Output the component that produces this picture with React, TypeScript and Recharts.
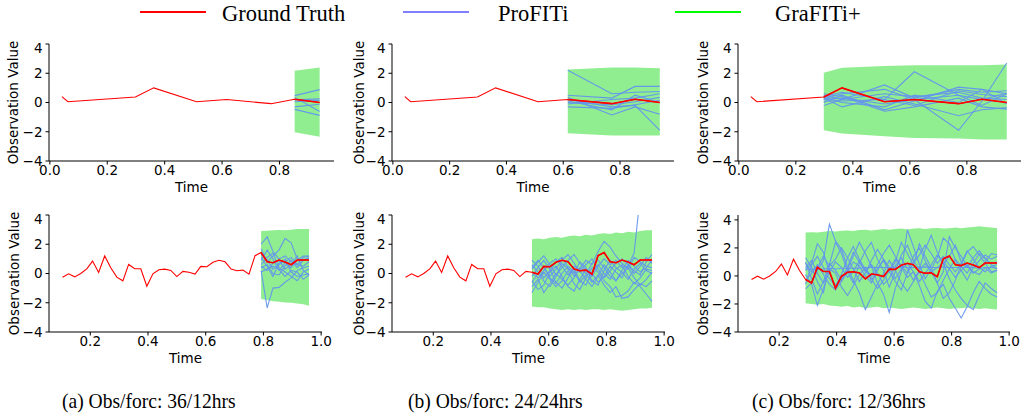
import { ComposedChart, Line, Area, XAxis, YAxis } from 'recharts';

// ---- data: top row (few irregular time stamps) ----
const topTimes = [0.042, 0.063, 0.298, 0.362, 0.511, 0.616, 0.771, 0.853, 0.94];
const topTruth = [0.4, 0.05, 0.38, 1.0, 0.05, 0.2, -0.08, 0.22, 0.0];

// (a) 36/12 : forecast from index 7
const aLo = [-2.03, -2.35];
const aHi = [2.17, 2.4];
const aSamples = [
  [0.47, 0.88],
  [0.35, -0.62],
  [0.18, 0.25],
  [0.05, 0.15],
  [-0.3, -0.12],
  [-0.47, -0.88],
];

// (b) 24/24 : forecast from index 5
const bLo = [-2.1, -2.25, -2.25, -2.25];
const bHi = [2.25, 2.4, 2.4, 2.35];
const bSamples = [
  [2.2, 0.6, 0.7, 0.75],
  [0.5, 0.3, 1.1, 1.1],
  [0.35, -0.85, -0.3, -0.8],
  [0.2, -0.3, -0.2, -1.9],
  [0.1, -0.5, 0.5, 0.0],
  [-0.1, 0.2, 0.3, 0.6],
  [-0.3, -0.4, -0.15, 0.15],
  [0.0, -0.15, 0.05, 0.35],
];

// (c) 12/36 : forecast from index 2
const cLo = [-1.9, -2.12, -2.3, -2.42, -2.47, -2.53, -2.53];
const cHi = [2.03, 2.37, 2.49, 2.55, 2.55, 2.55, 2.6];
const cSamples = [
  [0.4, 0.7, 0.2, 2.1, 0.5, -0.2, 0.6],
  [0.5, 0.2, 1.2, 0.3, 0.9, 0.7, 0.8],
  [0.2, 0.3, -0.1, 0.2, -1.9, 0.1, 2.7],
  [0.3, -0.3, 0.4, -0.1, -0.9, -0.5, -0.35],
  [0.0, 0.5, -0.5, 0.1, 1.05, 0.9, 0.6],
  [-0.2, 0.2, 0.6, 0.4, 0.7, 0.3, 0.2],
  [0.6, 0.4, -0.6, -0.3, 0.3, -0.3, -0.45],
  [0.1, 0.1, 0.2, -0.2, 0.8, 0.55, 0.4],
  [0.35, 0.0, -0.3, 0.5, 0.0, 0.9, -0.1],
  [0.25, 0.6, 0.9, 0.2, 0.5, 0.2, 0.65],
];

// ---- data: bottom row (hourly series) ----
const bottomTimes = [
  0.104, 0.125, 0.146, 0.167, 0.188, 0.208, 0.229, 0.25, 0.271, 0.292, 0.313, 0.333, 0.354, 0.375,
  0.396, 0.417, 0.438, 0.458, 0.479, 0.5, 0.521, 0.542, 0.563, 0.583, 0.604, 0.625, 0.646, 0.667,
  0.688, 0.708, 0.729, 0.75, 0.771, 0.792, 0.813, 0.833, 0.854, 0.875, 0.896, 0.917, 0.938, 0.958,
];
const bottomTruth = [
  -0.25, -0.02, -0.23, 0.0, 0.32, 0.85, 0.07, 1.2, 0.39, -0.25, -0.5, 0.62, 0.32, 0.32,
  -0.87, -0.02, 0.26, 0.3, 0.21, -0.21, 0.14, 0.08, -0.04, 0.49, 0.46, 0.77, 0.9, 0.8,
  0.3, 0.19, 0.23, -0.05, 1.22, 1.43, 0.8, 0.74, 0.92, 0.78, 0.6, 0.92, 0.92, 0.92,
];

// (d) 36/12 : forecast from index 33
const dLo = [-1.75, -1.82, -1.9, -1.93, -1.98, -2.0, -2.05, -2.1, -2.2];
const dHi = [2.9, 2.92, 2.95, 2.97, 2.95, 3.0, 3.05, 3.05, 3.05];
const dSamples = [
  [2.0, 2.5, 1.5, 1.0, 1.2, 0.8, 0.6, 1.1, 1.2],
  [1.7, 0.8, 1.2, 1.6, 2.4, 2.1, 1.0, 0.9, 1.1],
  [0.2, -2.35, -1.0, -0.95, -0.6, -0.3, 0.2, 0.4, 0.5],
  [0.6, 1.1, 1.4, 0.4, 0.1, -0.2, -0.5, 0.1, 0.3],
  [0.5, 0.2, 0.7, 0.9, 0.3, 0.6, 1.2, 0.2, -0.1],
  [1.3, 0.9, 0.3, 0.6, 1.0, 0.1, -0.2, -0.1, 0.0],
  [0.4, 0.6, 0.0, -0.1, 0.5, 0.9, 0.4, 0.9, 1.0],
  [0.9, 1.6, 1.0, 0.2, 0.7, 0.4, 0.9, 1.2, 1.2],
  [0.1, 0.3, 0.5, 0.3, -0.2, 0.2, 0.1, -0.4, -0.1],
  [1.1, 0.5, -0.2, 0.7, 0.8, 1.1, 0.6, 0.5, 0.8],
];

// (e) 24/24 : forecast from index 21
const eLo = [
  -2.25, -2.3, -2.3, -2.4, -2.45, -2.5, -2.45, -2.5, -2.45, -2.5, -2.45, -2.45, -2.5, -2.45,
  -2.5, -2.55, -2.5, -2.45, -2.4, -2.4, -2.35,
];
const eHi = [
  2.35, 2.4, 2.35, 2.45, 2.5, 2.45, 2.55, 2.6, 2.55, 2.65, 2.6, 2.7, 2.75, 2.7, 2.8, 2.75,
  2.85, 2.8, 2.9, 2.95, 2.95,
];
const eSamples = [
  [0.9, 0.5, -0.3, 0.2, 0.8, 1.1, 0.4, -0.2, 0.3, 0.9, 0.6, 1.5, 2.2, 1.8, 1.2, 0.7, 0.3, 1.1, 0.8, 0.5, 0.4],
  [-1.3, -0.6, 0.1, -0.4, -0.9, -0.5, 0.2, -0.7, -1.1, -0.3, 0.4, 0.1, -0.5, -0.9, -1.6, -1.5, -1.2, -0.6, -0.9, -1.4, -1.9],
  [0.3, 0.8, 1.2, 0.6, -0.1, 0.4, 0.9, 1.3, 0.7, 0.2, -0.2, 0.5, 1.0, 0.6, 0.9, 0.4, 0.5, 1.4, 5.3, 9, 14],
  [-0.5, -1.1, -0.8, 0.1, 0.5, -0.2, -0.9, -1.2, -0.4, 0.3, 0.0, -0.6, -0.2, 0.5, 0.1, -0.3, 0.6, 0.2, -0.1, 0.8, 1.3],
  [0.6, 0.1, -0.5, -0.9, -0.2, 0.7, 0.3, 0.0, 0.8, 0.4, -0.5, -0.8, 0.2, 0.9, 0.4, 0.1, -0.4, 0.3, 0.7, 0.2, 0.0],
  [-0.2, 0.4, 0.9, 0.3, -0.6, -1.0, -0.3, 0.5, 0.2, -0.4, -0.9, -0.2, 0.6, 0.1, -0.5, 0.2, 0.9, 0.5, 0.1, 0.4, 0.9],
  [0.1, -0.3, 0.2, 0.7, 1.0, 0.5, -0.1, 0.3, -0.5, -0.8, 0.1, 0.6, 0.0, -0.4, 0.3, 0.6, -0.2, -0.7, -0.3, 0.3, 0.2],
  [-0.9, -0.4, -1.3, -0.7, 0.0, -0.4, -0.8, -0.3, 0.4, 0.0, -0.6, -0.1, -0.8, -1.3, -0.9, -1.7, -1.6, -1.1, -0.7, -0.9, -0.5],
  [0.4, 0.9, 0.4, -0.2, 0.3, 0.9, 1.3, 0.7, 0.1, 0.6, 1.0, 0.3, -0.3, 0.2, 0.7, 1.0, 0.6, 0.0, 0.5, 1.1, 0.7],
  [-0.6, 0.0, 0.5, -0.3, -0.7, 0.0, 0.5, 0.1, -0.6, -0.1, 0.7, 0.9, 0.4, -0.2, -0.5, 0.0, 0.4, -0.3, -0.8, -0.4, 0.1],
];

// (f) 12/36 : forecast from index 9
const fLo = [
  -1.95, -2.0, -2.05, -2.0, -2.1, -2.15, -2.2, -2.15, -2.25, -2.2, -2.3, -2.25, -2.2, -2.3, -2.25, -2.3,
  -2.35, -2.3, -2.25, -2.3, -2.35, -2.3, -2.25, -2.3, -2.35, -2.3, -2.3, -2.25, -2.3, -2.35, -2.3, -2.35, -2.4,
];
const fHi = [
  3.1, 3.12, 3.1, 3.15, 3.2, 3.18, 3.22, 3.25, 3.2, 3.28, 3.3, 3.25, 3.3, 3.35, 3.3, 3.35, 3.38, 3.32,
  3.38, 3.4, 3.35, 3.4, 3.42, 3.38, 3.4, 3.45, 3.4, 3.45, 3.5, 3.55, 3.5, 3.45, 3.4,
];
const fSamples = [
  [1.3, 0.6, -0.4, -1.2, 0.8, 2.4, 1.6, 0.3, -0.5, 0.9, 1.8, 2.4, 1.2, 0.4, -0.8, 0.3, 1.5, 2.2, 1.1, 0.5, 1.9, 2.9, 1.7, 0.8, 1.4, 2.2, 1.0, 0.6, 1.3, 1.8, 1.2, 0.9, 1.0],
  [-0.9, -0.5, 0.4, 1.1, 3.7, 2.5, 1.9, 0.6, -0.3, -1.2, -2.4, -1.5, -0.6, 0.2, 1.1, 0.4, -0.5, -1.1, -0.4, 0.3, -0.6, -1.5, -1.2, -0.3, 0.5, 1.2, 0.7, 0.2, 0.9, 1.6, 1.3, 0.8, 0.5],
  [0.4, 0.9, 2.3, 1.7, 0.2, -0.7, -0.3, 0.5, 1.4, 2.4, 1.6, 0.7, -0.5, -1.3, -2.6, -0.9, 0.3, 3.3, 2.1, 0.8, -0.2, 0.5, 1.3, 2.7, 2.3, 1.1, 0.4, -0.3, 0.6, 1.1, 1.5, 1.2, 1.4],
  [0.1, -0.6, -2.1, -0.9, 0.5, 0.2, -0.8, -1.4, -0.7, 0.1, 0.6, -0.2, -0.9, -0.3, 0.4, 1.2, 0.6, -0.1, 0.3, -0.7, -1.8, -2.3, -1.1, -0.6, -1.6, -2.3, -3.0, -2.2, -1.2, -0.4, -0.9, -1.3, -1.5],
  [0.9, 0.3, 0.6, 1.4, 0.7, 1.2, 2.0, 1.3, 0.5, -0.4, 0.2, 1.1, 1.9, 1.2, 0.3, 1.0, 2.4, 1.6, 0.8, 2.3, 1.4, 0.6, -0.5, 0.3, 2.8, 2.0, 1.4, 0.7, 0.2, 0.5, 1.0, 1.6, 1.5],
  [-0.3, 0.2, 0.8, 0.1, -0.6, -1.0, -0.4, 0.3, 1.0, 0.7, 0.0, -0.5, 0.4, 1.2, 0.6, -0.2, 0.5, 0.9, 0.3, -0.4, 0.2, 0.8, 1.5, 0.9, -0.2, -1.0, -1.6, -2.1, -2.4, -1.4, -0.5, -0.9, -1.2],
  [0.6, 1.1, 0.2, -0.5, 0.3, 1.0, 0.6, -0.1, 0.3, 1.1, 0.5, 0.0, 0.8, 1.6, 2.2, 1.4, 0.7, 0.2, 0.9, 1.5, 2.2, 1.6, 0.9, 1.4, 0.8, 0.3, 0.9, 1.8, 1.2, 0.6, 0.3, 0.7, 0.8],
  [1.0, -0.2, -1.3, -0.4, 0.9, 0.4, -0.3, 0.6, 1.7, 1.0, 0.3, 0.8, 0.2, -0.6, -0.2, 0.7, 1.3, 0.5, -0.3, 0.4, 0.9, 0.3, 0.6, 1.0, 0.5, -0.1, 0.4, 0.8, 0.3, 0.1, 0.6, 0.2, 0.4],
  [0.5, 0.5, 0.5, 0.5, 0.55, 0.5, 0.55, 0.55, 0.55, 0.55, 0.6, 0.6, 0.6, 0.6, 0.6, 0.6, 0.65, 0.6, 0.6, 0.6, 0.65, 0.6, 0.6, 0.65, 0.6, 0.6, 0.6, 0.6, 0.6, 0.55, 0.6, 0.6, 0.55],
  [-0.6, 0.8, 1.4, 0.6, -0.2, -0.7, 0.1, 1.3, 2.1, 1.2, 0.4, -0.3, 0.5, 1.1, 0.3, -0.4, -1.0, 0.2, 1.4, 2.0, 1.1, 0.3, -0.5, -1.6, -1.2, -0.3, 0.8, 1.7, 2.1, 1.5, 0.9, 0.3, 0.4],
];

const topXTicks = [0, 0.2, 0.4, 0.6, 0.8];
const bottomXTicks = [0.2, 0.4, 0.6, 0.8, 1.0];
const yTicks = [-4, -2, 0, 2, 4];
const captions = ['(a) Obs/forc: 36/12hrs', '(b) Obs/forc: 24/24hrs', '(c) Obs/forc: 12/36hrs'];

type Row = { [k: string]: number | number[] | undefined };

function buildRows(times: number[], truth: number[], start: number, lo: number[], hi: number[], samples: number[][]) {
  return times.map((t, i) => {
    const row: Row = { t, gt: truth[i] };
    const j = i - start;
    if (j >= 0) {
      row.gtf = truth[i];
      row.band = [lo[j], hi[j]];
      samples.forEach((s, n) => {
        row['s' + n] = s[j];
      });
    }
    return row;
  });
}

const AXIS_W = 49;
const AXIS_H = 34;
const PAD_T = 4;
const PAD_R = 14;
const FONT = "'DejaVu Sans', sans-serif";
const SERIF = "'Liberation Serif', 'Times New Roman', serif";
const BLUE = '#6495ED';

const fmtY = (v: number) => (v < 0 ? '\u2212' + Math.abs(v) : String(v));
const fmtX = (v: number) => v.toFixed(1);

type PanelProps = {
  box: number[];
  labelX: number;
  xDomain: number[];
  xTicks: number[];
  yDomain: number[];
  rows: Row[];
  nSamples: number;
};

function Panel({ box, labelX, xDomain, xTicks, yDomain, rows, nSamples }: PanelProps) {
  const [x0, y0, x1, y1] = box;
  const left = x0 - AXIS_W;
  const top = y0 - PAD_T;
  const w = x1 - x0 + AXIS_W + PAD_R;
  const h = y1 - y0 + PAD_T + AXIS_H;
  const tickStyle = { fontSize: 13.5, fill: '#000', fontFamily: FONT };

  return (
    <div style={{ position: 'absolute', left, top, width: w, height: h }}>
      <ComposedChart width={w} height={h} data={rows} margin={{ top: PAD_T, right: PAD_R, bottom: 0, left: 0 }}>
        <XAxis
          dataKey="t"
          type="number"
          domain={xDomain}
          ticks={xTicks}
          tickFormatter={fmtX}
          allowDataOverflow
          height={AXIS_H}
          tickSize={3.5}
          tickMargin={1}
          tick={tickStyle}
          stroke="#000"
          label={{ value: 'Time', position: 'insideBottom', offset: 3, style: { fontSize: 13.5, fill: '#000', fontFamily: FONT } }}
        />
        <XAxis xAxisId="top" orientation="top" type="number" domain={xDomain} allowDataOverflow height={0} tick={false} tickLine={false} stroke="#000" />
        <YAxis
          type="number"
          domain={yDomain}
          ticks={yTicks}
          tickFormatter={fmtY}
          allowDataOverflow
          width={AXIS_W}
          tickSize={3.5}
          tickMargin={3}
          tick={tickStyle}
          stroke="#000"
          label={{
            value: 'Observation Value',
            angle: -90,
            position: 'insideLeft',
            offset: labelX - left,
            style: { fontSize: 13.5, fill: '#000', fontFamily: FONT, textAnchor: 'middle' },
          }}
        />
        <YAxis yAxisId="right" orientation="right" type="number" domain={yDomain} allowDataOverflow width={0} tick={false} tickLine={false} stroke="#000" />
        <Area dataKey="band" type="linear" stroke="none" fill="#90EE90" fillOpacity={1} isAnimationActive={false} />
        {Array.from({ length: nSamples }, (_, n) => (
          <Line
            key={n}
            dataKey={'s' + n}
            type="linear"
            stroke={BLUE}
            strokeOpacity={0.95}
            strokeWidth={1.1}
            dot={false}
            isAnimationActive={false}
          />
        ))}
        <Line dataKey="gt" type="linear" stroke="#ff0000" strokeWidth={1.1} dot={false} isAnimationActive={false} />
        <Line dataKey="gtf" type="linear" stroke="#ff0000" strokeWidth={1.6} dot={false} isAnimationActive={false} />
      </ComposedChart>
    </div>
  );
}

const topDomain = [-0.003, 0.99];
const bottomDomain = [0.057, 1.003];

const panels: PanelProps[] = [
  { box: [49, 44, 334, 161], labelX: 13, xDomain: topDomain, xTicks: topXTicks, yDomain: [-4, 4], rows: buildRows(topTimes, topTruth, 7, aLo, aHi, aSamples), nSamples: aSamples.length },
  { box: [392, 44, 674, 161], labelX: 359, xDomain: topDomain, xTicks: topXTicks, yDomain: [-4, 4], rows: buildRows(topTimes, topTruth, 5, bLo, bHi, bSamples), nSamples: bSamples.length },
  { box: [738, 44, 1021, 161], labelX: 703, xDomain: topDomain, xTicks: topXTicks, yDomain: [-4, 4], rows: buildRows(topTimes, topTruth, 2, cLo, cHi, cSamples), nSamples: cSamples.length },
  { box: [49, 215, 322, 332], labelX: 14, xDomain: bottomDomain, xTicks: bottomXTicks, yDomain: [-4, 4], rows: buildRows(bottomTimes, bottomTruth, 33, dLo, dHi, dSamples), nSamples: dSamples.length },
  { box: [392, 215, 665, 332], labelX: 359, xDomain: bottomDomain, xTicks: bottomXTicks, yDomain: [-4, 4], rows: buildRows(bottomTimes, bottomTruth, 21, eLo, eHi, eSamples), nSamples: eSamples.length },
  { box: [738, 215, 1010, 332], labelX: 703, xDomain: bottomDomain, xTicks: bottomXTicks, yDomain: [-4, 4.35], rows: buildRows(bottomTimes, bottomTruth, 9, fLo, fHi, fSamples), nSamples: fSamples.length },
];

const legendItems = [
  { name: 'Ground Truth', color: '#ff0000', x: 140, tx: 222 },
  { name: 'ProFITi', color: '#7f7fff', x: 403, tx: 498 },
  { name: 'GraFITi+', color: '#00ff00', x: 675, tx: 775 },
];
const captionX = [62, 408, 752];

export default function App() {
  return (
    <div style={{ position: 'absolute', left: 0, top: 0, width: 1023, height: 414, background: '#fff', overflow: 'hidden' }}>
      {legendItems.map((it) => (
        <div key={it.name}>
          <div style={{ position: 'absolute', left: it.x, top: 11, width: 66, height: 2, background: it.color }} />
          <div
            style={{
              position: 'absolute',
              left: it.tx,
              top: 3,
              fontFamily: SERIF,
              fontSize: 22.5,
              lineHeight: '22.5px',
              whiteSpace: 'nowrap',
              color: '#000',
            }}
          >
            {it.name}
          </div>
        </div>
      ))}
      {panels.map((p, i) => (
        <Panel key={i} {...p} />
      ))}
      {captions.map((c, i) => (
        <div
          key={c}
          style={{
            position: 'absolute',
            left: captionX[i],
            top: 391,
            fontFamily: SERIF,
            fontSize: 21,
            lineHeight: '21px',
            whiteSpace: 'nowrap',
            color: '#000',
            transform: 'scaleX(0.93)',
            transformOrigin: 'left top',
          }}
        >
          {c}
        </div>
      ))}
    </div>
  );
}
